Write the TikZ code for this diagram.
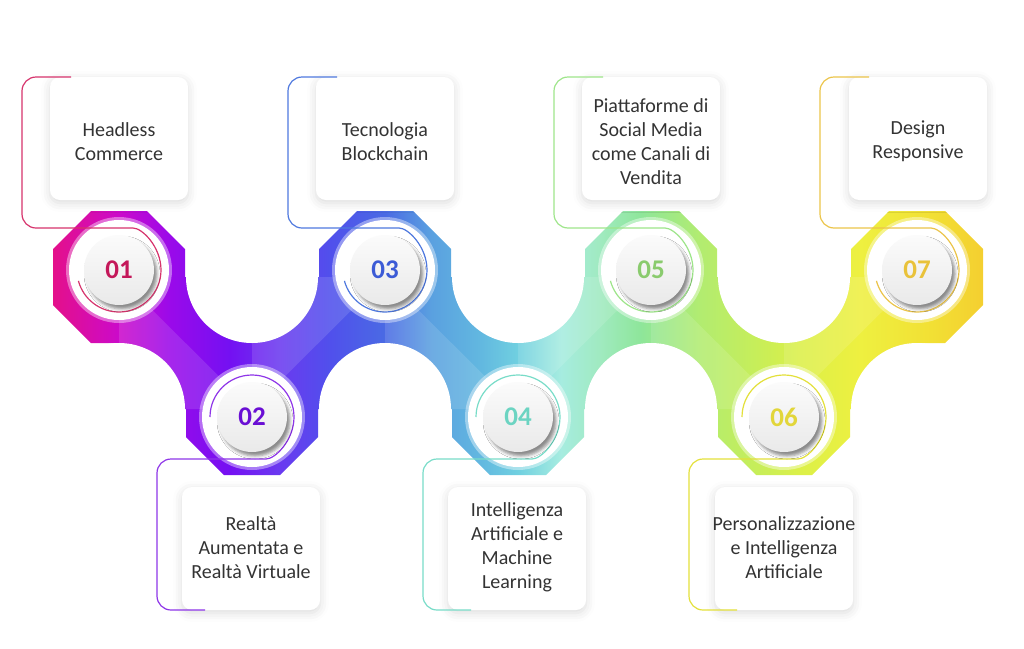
\documentclass[tikz,border=0pt]{standalone}
\usepackage{fontspec}
\setmainfont{Carlito}
\usetikzlibrary{shadows.blur}

\definecolor{txtgray}{HTML}{333333}
% band colours, left to right
\definecolor{b1}{HTML}{E4108A}
\definecolor{b2}{HTML}{CB0ACB}
\definecolor{b3}{HTML}{9A0AEA}
\definecolor{b4}{HTML}{7410F2}
\definecolor{b5}{HTML}{6A3AF0}
\definecolor{b6}{HTML}{5050EC}
\definecolor{b7}{HTML}{4A6AE4}
\definecolor{b8}{HTML}{5AA0E0}
\definecolor{b9}{HTML}{62B8E0}
\definecolor{b10}{HTML}{70D0E0}
\definecolor{b11}{HTML}{A6ECE0}
\definecolor{b12}{HTML}{A0EAC0}
\definecolor{b13}{HTML}{8EE69A}
\definecolor{b14}{HTML}{B2EC70}
\definecolor{b15}{HTML}{C8EE58}
\definecolor{b16}{HTML}{DCF048}
\definecolor{b17}{HTML}{EEF040}
\definecolor{b18}{HTML}{F2E034}
\definecolor{b19}{HTML}{F4CF30}
% brackets and numbers
\definecolor{c1}{HTML}{D6336C}\definecolor{n1}{HTML}{C4185A}
\definecolor{c2}{HTML}{8E35E8}\definecolor{n2}{HTML}{6A0FD4}
\definecolor{c3}{HTML}{4E78DE}\definecolor{n3}{HTML}{3C5BD6}
\definecolor{c4}{HTML}{78DCC8}\definecolor{n4}{HTML}{6CD4C2}
\definecolor{c5}{HTML}{9EE58A}\definecolor{n5}{HTML}{8ACB6E}
\definecolor{c6}{HTML}{E3E03A}\definecolor{n6}{HTML}{E2D63A}
\definecolor{c7}{HTML}{EBC44A}\definecolor{n7}{HTML}{E9C23A}

\pgfdeclarehorizontalshading{bandshade}{100bp}{color(0bp)=(b1); color(25bp)=(b1);
  color(28.6bp)=(b2); color(31.3bp)=(b3); color(34.5bp)=(b4); color(37.2bp)=(b5);
  color(39.9bp)=(b6); color(42.85bp)=(b7); color(45.3bp)=(b8); color(48bp)=(b9);
  color(50bp)=(b10); color(52.3bp)=(b11); color(54.4bp)=(b12); color(56.6bp)=(b13);
  color(59.8bp)=(b14); color(63bp)=(b15); color(65.2bp)=(b16); color(68.4bp)=(b17);
  color(72.2bp)=(b18); color(75bp)=(b19); color(100bp)=(b19)}

\begin{document}
\begin{tikzpicture}[x=1pt, y=-1pt,
  box/.style={fill=white, rounded corners=10pt, minimum width=138pt, minimum height=123pt,
    inner sep=0pt,
    blur shadow={shadow xshift=0pt, shadow yshift=-3pt, shadow blur radius=9pt, shadow opacity=14}},
  txt/.style={align=center, text=txtgray, inner sep=0pt, font=\fontsize{20}{24}\selectfont},
  ring/.style={circle, fill=white, minimum size=100pt, inner sep=0pt},
  disk/.style={circle, minimum size=70pt, inner sep=0pt, top color=gray!3, bottom color=gray!17,
    font=\fontsize{27}{27}\selectfont\bfseries,
    blur shadow={shadow xshift=3pt, shadow yshift=-4pt, shadow blur radius=3pt, shadow opacity=45}},
  bracket/.style={line width=1.2pt, rounded corners=14pt}]
\useasboundingbox (0,0) rectangle (1024,648);

% the zigzag band
\path[shading=bandshade] (119,277) -- (917,277) -- (917,409) -- (119,409) -- cycle
  \foreach \c in {119,385,651,917} {(\c-28,211) -- (\c+28,211) -- (\c+66,249) -- (\c+66,305)
    -- (\c+28,343) -- (\c-28,343) -- (\c-66,305) -- (\c-66,249) -- cycle}
  \foreach \c in {252,518,784} {(\c-28,343) -- (\c+28,343) -- (\c+66,381) -- (\c+66,437)
    -- (\c+28,475) -- (\c-28,475) -- (\c-66,437) -- (\c-66,381) -- cycle};
\foreach \a/\b in {119/252,385/518,651/784}
  \fill[white, opacity=0.12] (\a,277) -- (\b,409) -- (\a,409) -- cycle;
\foreach \a/\b in {252/385,518/651,784/917}
  \fill[white, opacity=0.12] (\a,409) -- (\b,277) -- (\a,277) -- cycle;
\foreach \c in {252,518,784} \fill[white] (\c,277) circle[radius=66];
\foreach \c in {119,385,651,917} \fill[white] (\c,409) circle[radius=66];

% text boxes
\node[box] (box1) at (119,138.5) {};
\node[box] (box2) at (251,548.5) {};
\node[box] (box3) at (385,138.5) {};
\node[box] (box4) at (517,548.5) {};
\node[box] (box5) at (651,138.5) {};
\node[box] (box6) at (784,548.5) {};
\node[box] (box7) at (918,138.5) {};
\node[txt] (txt1) at ([yshift=-3pt]box1.center) {Headless\\Commerce};
\node[txt] (txt2) at ([yshift=1pt]box2.center) {Realtà\\Aumentata e\\Realtà Virtuale};
\node[txt] (txt3) at ([yshift=-3pt]box3.center) {Tecnologia\\Blockchain};
\node[txt] (txt4) at ([yshift=1pt]box4.center) {Intelligenza\\Artificiale e\\Machine\\Learning};
\node[txt] (txt5) at ([yshift=-3pt]box5.center) {Piattaforme di\\Social Media\\come Canali di\\Vendita};
\node[txt] (txt6) at ([yshift=1pt]box6.center) {Personalizzazione\\e Intelligenza\\Artificiale};
\node[txt] (txt7) at ([yshift=-3pt]box7.center) {Design\\Responsive};

% white rings
\foreach \c/\r in {119/270,252/417,385/270,518/417,651/270,784/417,917/270}
  \fill[white, opacity=0.4] (\c,\r) circle[radius=53];
\node[ring] (ring1) at (119,270) {};
\node[ring] (ring2) at (252,417) {};
\node[ring] (ring3) at (385,270) {};
\node[ring] (ring4) at (518,417) {};
\node[ring] (ring5) at (651,270) {};
\node[ring] (ring6) at (784,417) {};
\node[ring] (ring7) at (917,270) {};

% brackets running into the arcs
\draw[bracket, c1] (71,77) -- (22,77) -- (22,228) -- (119,228) arc[start angle=-90, end angle=165, radius=42];
\draw[bracket, c2] (205,610) -- (157,610) -- (157,459) -- (252,459) arc[start angle=90, end angle=-180, radius=42];
\draw[bracket, c3] (337,77) -- (288,77) -- (288,228) -- (385,228) arc[start angle=-90, end angle=165, radius=42];
\draw[bracket, c4] (471,610) -- (423,610) -- (423,459) -- (518,459) arc[start angle=90, end angle=-180, radius=42];
\draw[bracket, c5] (603,77) -- (554,77) -- (554,228) -- (651,228) arc[start angle=-90, end angle=165, radius=42];
\draw[bracket, c6] (737,610) -- (689,610) -- (689,459) -- (784,459) arc[start angle=90, end angle=-180, radius=42];
\draw[bracket, c7] (869,77) -- (820,77) -- (820,228) -- (917,228) arc[start angle=-90, end angle=165, radius=42];

% numbered disks
\node[disk, text=n1] (num1) at (ring1) {01};
\node[disk, text=n2] (num2) at (ring2) {02};
\node[disk, text=n3] (num3) at (ring3) {03};
\node[disk, text=n4] (num4) at (ring4) {04};
\node[disk, text=n5] (num5) at (ring5) {05};
\node[disk, text=n6] (num6) at (ring6) {06};
\node[disk, text=n7] (num7) at (ring7) {07};
\end{tikzpicture}
\end{document}
